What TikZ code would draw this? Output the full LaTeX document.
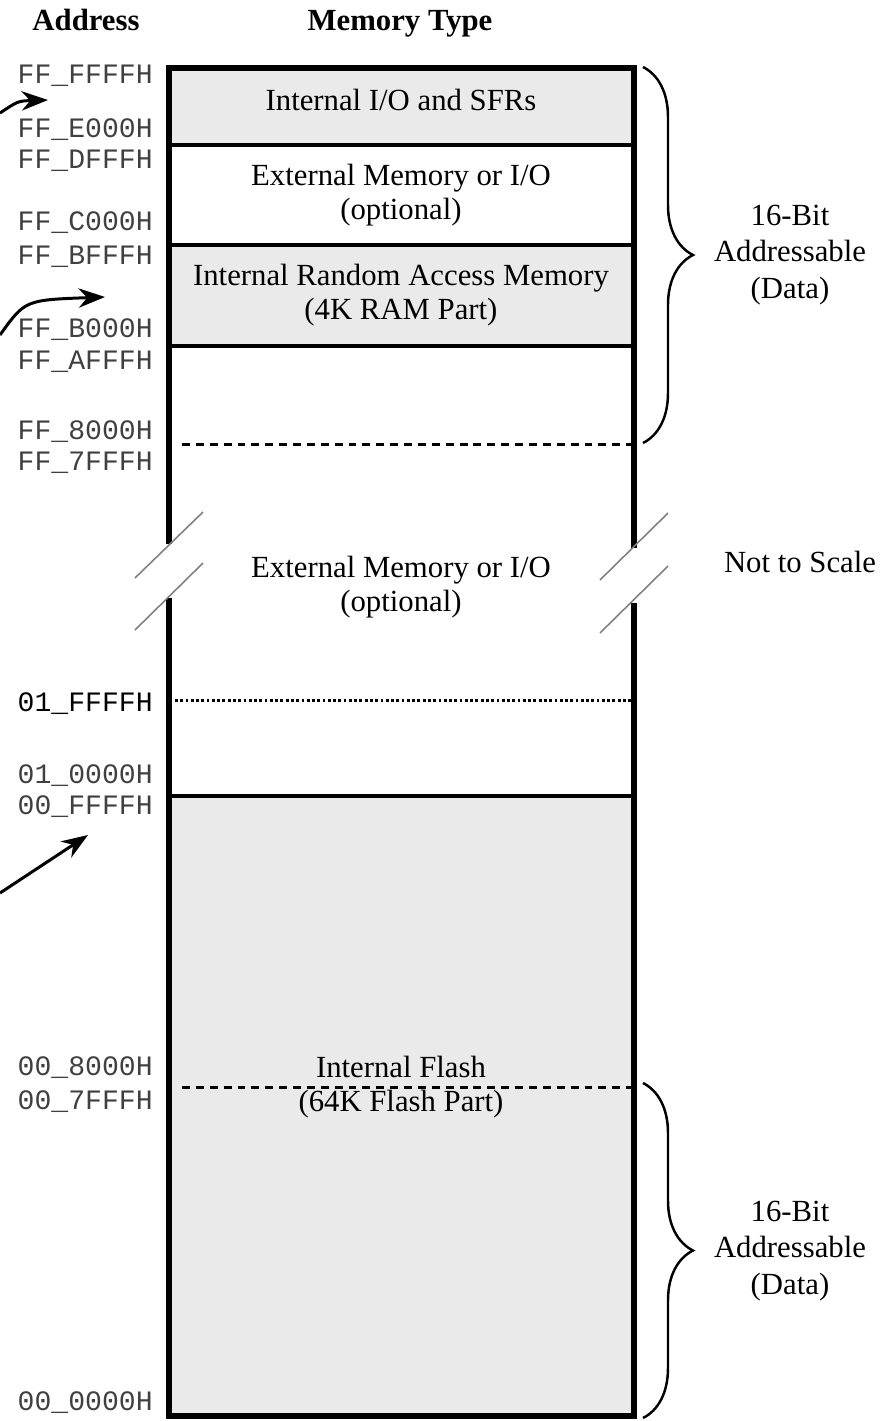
\documentclass[tikz,border=0pt]{standalone}
\usepackage{fontspec}
\setmainfont{Liberation Serif}
\setmonofont{Liberation Mono}
\usetikzlibrary{positioning, arrows.meta, decorations.pathreplacing}
\definecolor{memgray}{HTML}{EAEAEA}

\begin{document}
\begin{tikzpicture}[
        x=0.02cm, y=-0.02cm,
        addr/.style={anchor=east, inner sep=0pt, text=black!75, font=\fontsize{16}{18}\selectfont\ttfamily},
        memtext/.style={align=center, inner sep=0pt, font=\fontsize{17.5}{19}\selectfont},
        side/.style={align=center, inner sep=0pt, font=\fontsize{17.5}{21}\selectfont},
        head/.style={anchor=base, inner sep=0pt, font=\fontsize{17.5}{20}\selectfont\bfseries},
        wall/.style={line width=2.9pt},
        part/.style={line width=2.6pt},
        split/.style={line width=1.7pt, dash pattern=on 4.5pt off 3.4pt},
        fine/.style={line width=1.7pt, dash pattern=on 1.6pt off 1.4pt},
        cut/.style={gray, line width=0.9pt},
        bracket/.style={decorate, decoration={brace, amplitude=1cm, aspect=0.5}, line width=1.4pt},
        arrow/.style={-{Stealth[length=15pt, width=11pt]}, line width=1.7pt}
    ]
    \useasboundingbox (0,0) rectangle (886,1421);

    % shaded parts of the map
    \fill[memgray] (169,68) rectangle (634,145);
    \fill[memgray] (169,245) rectangle (634,346);
    \fill[memgray] (169,796) rectangle (634,1416);

    % outline, broken where the scale is cut
    \draw[wall] (169,544) -- (169,68) -- (634,68) -- (634,548);
    \draw[wall] (169,598) -- (169,1416) -- (634,1416) -- (634,603);
    \draw[part] (169,145) -- (634,145);
    \draw[part] (169,245) -- (634,245);
    \draw[part] (169,346) -- (634,346);
    \draw[part] (169,796) -- (634,796);
    \draw[split] (182,444) -- (632,444);
    \draw[split] (182,1087) -- (632,1087);
    \draw[fine] (175,700) -- (632,700);

    % scale breaks
    \draw[cut] (135,578) -- (203,512);
    \draw[cut] (135,630) -- (203,563);
    \draw[cut] (600,580) -- (668,513);
    \draw[cut] (600,633) -- (668,566);

    \node[head] (AddrHead) at (86,30) {Address};
    \node[head] (TypeHead) at (400,30) {Memory Type};

    \node[memtext] (SFR) at (401,100) {Internal I/O and SFRs};
    \node[memtext] (ExtTop) at (401,195) {External Memory or I/O\\(optional)};
    \node[memtext] (RAM) at (401,295) {Internal Random Access Memory\\(4K RAM Part)};
    \node[memtext] (ExtMid) at (401,587) {External Memory or I/O\\(optional)};
    \node[memtext] (Flash) at (401,1087) {Internal Flash\\(64K Flash Part)};

    \node[addr] (FFFFFF) at (153,76) {FF\_FFFFH};
    \node[addr] (FFE000) at (153,130) {FF\_E000H};
    \node[addr] (FFDFFF) at (153,161) {FF\_DFFFH};
    \node[addr] (FFC000) at (153,223) {FF\_C000H};
    \node[addr] (FFBFFF) at (153,257) {FF\_BFFFH};
    \node[addr] (FFB000) at (153,330) {FF\_B000H};
    \node[addr] (FFAFFF) at (153,362) {FF\_AFFFH};
    \node[addr] (FF8000) at (153,432) {FF\_8000H};
    \node[addr] (FF7FFF) at (153,463) {FF\_7FFFH};
    \node[addr, text=black] (01FFFF) at (153,704) {01\_FFFFH};
    \node[addr] (010000) at (153,776) {01\_0000H};
    \node[addr] (00FFFF) at (153,807) {00\_FFFFH};
    \node[addr] (008000) at (153,1068) {00\_8000H};
    \node[addr] (007FFF) at (153,1102) {00\_7FFFH};
    \node[addr] (000000) at (153,1403) {00\_0000H};

    \node[side] (UpperData) at (790,255) {16-Bit\\Addressable\\(Data)};
    \node[side] (LowerData) at (790,1251) {16-Bit\\Addressable\\(Data)};
    \node[side] (Scale) at (800,562) {Not to Scale};

    \draw[bracket] (643,67) -- (643,443);
    \draw[bracket] (643,1083) -- (643,1418);

    % pointers coming in from the left
    \coordinate (SfrFrom) at (0,113);
    \coordinate (SfrTo) at (48,100);
    \coordinate (RamFrom) at (0,335);
    \coordinate (RamTo) at (105,297);
    \coordinate (FlashFrom) at (0,893);
    \coordinate (FlashTo) at (88,835);
    \draw[arrow] (SfrFrom) .. controls (18,101) .. (SfrTo);
    \draw[arrow] (RamFrom) .. controls (25,300) .. (RamTo);
    \draw[arrow] (FlashFrom) -- (FlashTo);

\end{tikzpicture}
\end{document}
